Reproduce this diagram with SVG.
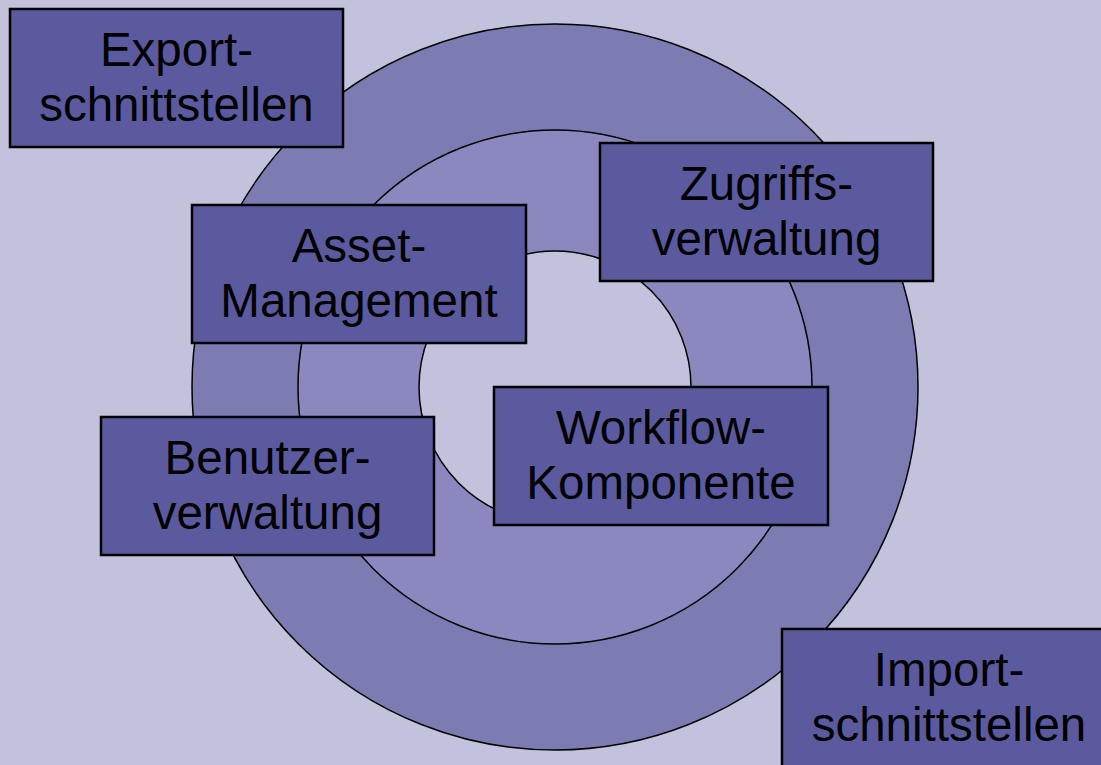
<svg xmlns="http://www.w3.org/2000/svg" width="1101" height="765" viewBox="0 0 1101 765">
<style>
.box{fill:#5c5a9f;stroke:#000;stroke-width:2.5}
.t{font-family:"Liberation Sans",Arial,sans-serif;font-size:47.5px;fill:#000;text-anchor:middle}
.ring{stroke:#000;stroke-width:1.5}
</style>
<rect x="0" y="0" width="1101" height="765" fill="#c2c2dd"/>
<g id="rings">
<circle class="ring" cx="555" cy="387" r="363" fill="#7c7cb3"/>
<circle class="ring" cx="555" cy="387" r="257" fill="#8a88bf"/>
<circle class="ring" cx="555" cy="387" r="136" fill="#c2c2dd"/>
</g>
<g id="connectors"></g>
<g id="export">
<rect class="box" x="10" y="9" width="333" height="138"/>
<text class="t" x="176.5" y="65.5">Export-</text>
<text class="t" x="176.5" y="121">schnittstellen</text>
</g>
<g id="asset">
<rect class="box" x="192" y="205" width="334" height="138"/>
<text class="t" x="359" y="261.5">Asset-</text>
<text class="t" x="359" y="317">Management</text>
</g>
<g id="zugriff">
<rect class="box" x="600" y="143" width="333" height="138"/>
<text class="t" x="766.5" y="199.5">Zugriffs-</text>
<text class="t" x="766.5" y="255">verwaltung</text>
</g>
<g id="benutzer">
<rect class="box" x="101" y="417" width="333" height="138"/>
<text class="t" x="267.5" y="473.5">Benutzer-</text>
<text class="t" x="267.5" y="529">verwaltung</text>
</g>
<g id="workflow">
<rect class="box" x="494" y="387" width="334" height="138"/>
<text class="t" x="661" y="443.5">Workflow-</text>
<text class="t" x="661" y="499">Komponente</text>
</g>
<g id="import">
<rect class="box" x="782" y="629" width="334" height="150"/>
<text class="t" x="949" y="685.5">Import-</text>
<text class="t" x="949" y="741">schnittstellen</text>
</g>
</svg>
